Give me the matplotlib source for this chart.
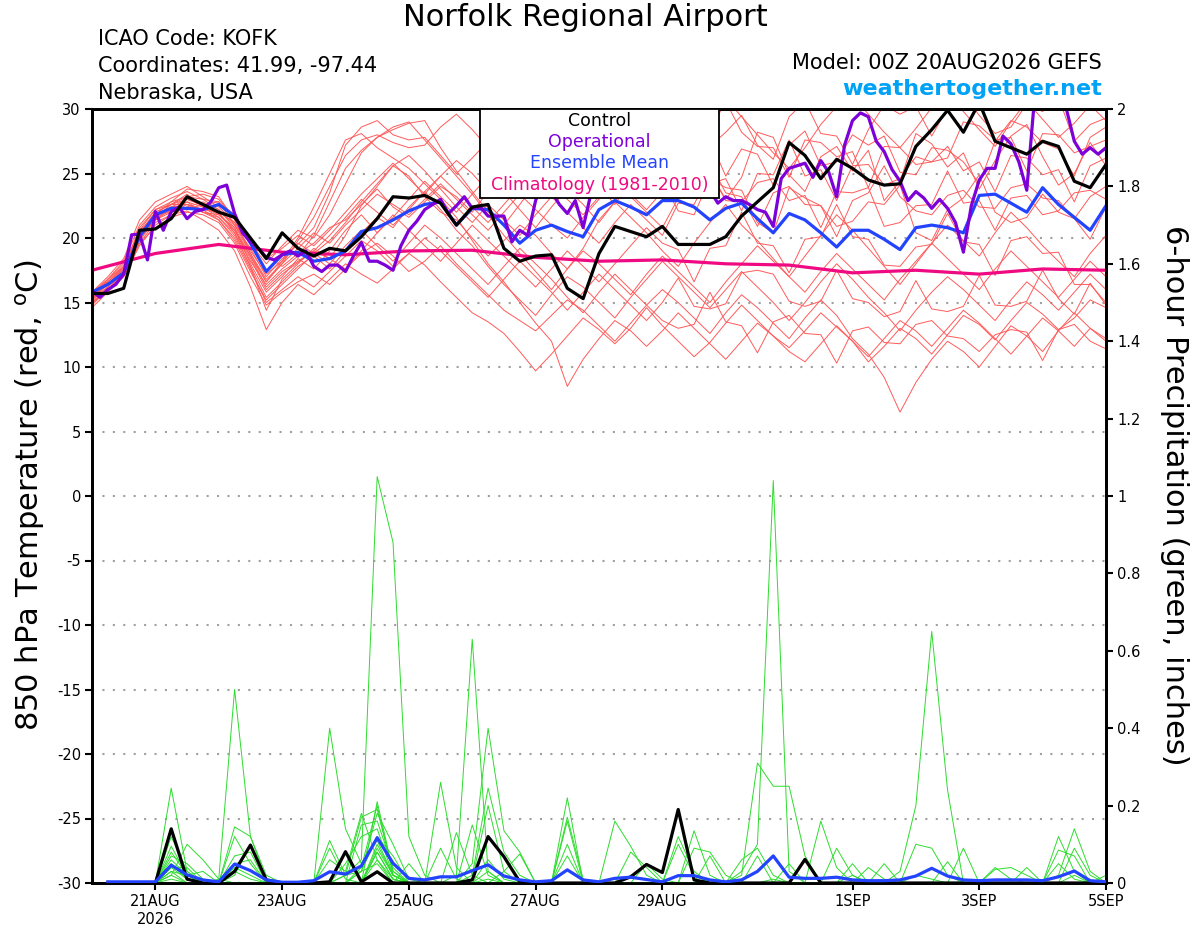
import numpy as np
import matplotlib
matplotlib.use('Agg')
import matplotlib.pyplot as plt
from matplotlib.patches import Rectangle

# 850 hPa temperature, 6-hourly from 00Z 20AUG (65 steps)
control_temp = [15.7, 15.7, 16.1, 20.6, 20.7, 21.5, 23.2, 22.6, 22.0, 21.6, 20.0, 18.4, 20.4,
                19.2, 18.6, 19.2, 19.0, 20.1, 21.5, 23.2, 23.1, 23.3, 22.7, 21.0, 22.4, 22.6,
                19.2, 18.2, 18.6, 18.7, 16.1, 15.3, 18.8, 20.9, 20.5, 20.1, 20.9, 19.5, 19.5,
                19.5, 20.1, 21.7, 22.8, 23.9, 27.4, 26.4, 24.6, 26.1, 25.4, 24.5, 24.1, 24.2,
                27.1, 28.4, 29.9, 28.2, 30.5, 27.5, 27.0, 26.5, 27.5, 27.1, 24.4, 23.9, 25.7]

mean_temp = [15.8, 16.4, 17.3, 20.1, 21.8, 22.3, 22.3, 22.2, 22.6, 21.7, 19.6, 17.4, 18.7,
             18.9, 18.2, 18.4, 19.0, 20.5, 20.8, 21.4, 22.1, 22.6, 22.8, 21.0, 22.3, 22.2,
             21.0, 19.6, 20.6, 21.0, 20.5, 20.1, 22.2, 22.9, 22.4, 21.8, 22.9, 22.9, 22.4,
             21.4, 22.3, 22.7, 21.5, 20.4, 21.9, 21.4, 20.4, 19.3, 20.6, 20.6, 19.9, 19.1,
             20.8, 21.0, 20.8, 20.4, 23.3, 23.4, 22.7, 22.0, 23.9, 22.6, 21.6, 20.6, 22.5]

# operational run is 3-hourly (129 steps)
oper_temp = [15.9, 15.4, 16.0, 16.4, 17.2, 20.25, 20.3, 18.3, 22.05, 20.6, 22.05, 22.4, 21.5, 22.05, 22.2, 22.8,
             23.9, 24.1, 21.9, 20.4, 19.7, 19.2, 18.5, 18.3, 18.7, 19.0, 18.6, 19.0, 17.8, 17.4, 17.9, 17.9,
             17.4, 18.6, 19.65, 18.2, 18.2, 17.9, 17.5, 19.4, 20.6, 21.3, 22.2, 22.6, 23.0, 21.9, 22.5, 23.2,
             22.3, 22.4, 21.7, 21.7, 21.7, 19.7, 20.6, 20.2, 22.9, 24.5, 23.6, 22.6, 21.9, 22.9, 20.8, 23.5,
             24.5, 25.0, 24.2, 25.3, 24.8, 24.0, 24.6, 25.5, 25.0, 24.3, 24.8, 25.2, 24.5, 24.0, 23.7, 22.7,
             23.2, 22.9, 22.9, 22.6, 22.2, 22.0, 20.9, 24.6, 25.4, 25.6, 25.8, 24.7, 26.0, 25.1, 23.2, 27.2,
             29.1, 29.7, 29.4, 27.5, 26.7, 25.3, 24.4, 22.9, 23.6, 23.1, 22.3, 23.0, 22.3, 21.2, 18.9, 22.5,
             24.5, 25.4, 25.4, 27.9, 27.3, 25.9, 23.7, 31.0, 32.0, 31.5, 31.0, 30.0, 27.5, 26.5, 27.0, 26.5,
             27.0]

# climatology, daily
clim_temp = [17.5, 18.8, 19.5, 18.9, 18.7, 19.0, 19.05, 18.5, 18.2, 18.3, 18.0, 17.9,
             17.3, 17.5, 17.2, 17.6, 17.5]

members_temp = [
    [15.2, 16.8, 18.2, 21.0, 22.4, 23.1, 23.6, 23.0, 22.8, 21.0, 19.2, 17.0,
     18.4, 19.5, 20.8, 23.5, 27.2, 28.6, 29.1, 28.0, 27.6, 27.8, 26.4, 25.0,
     26.2, 27.5, 25.8, 24.1, 23.0, 24.6, 26.8, 28.2, 27.4, 29.0, 30.4, 28.8,
     27.2, 26.0, 27.8, 29.6, 30.8, 29.4, 28.0, 26.6, 25.4, 27.0, 28.8, 30.2,
     31.0, 29.6, 28.2, 27.0, 28.5, 30.1, 31.2, 29.8, 28.4, 27.1, 29.0, 30.6,
     29.2, 27.8, 28.9, 30.3, 29.1],
    [14.6, 15.8, 17.0, 19.4, 21.0, 21.8, 22.1, 21.4, 20.6, 19.0, 16.2, 12.9,
     15.0, 16.4, 15.6, 16.8, 18.0, 17.2, 16.5, 17.6, 18.8, 17.9, 16.6, 15.4,
     14.2, 13.5, 12.6, 11.2, 9.7, 11.0, 12.4, 13.8, 12.9, 11.8, 13.0, 14.6,
     13.2, 12.0, 10.8, 11.9, 13.4, 14.8, 13.6, 12.4, 11.5, 12.8, 14.2, 13.1,
     12.0, 10.4, 11.6, 13.0, 12.2, 11.0, 12.5, 14.0, 13.3, 12.1, 13.6, 15.0,
     14.1, 12.9, 13.8, 15.2, 14.6],
    [15.0, 16.2, 17.8, 20.4, 22.0, 22.6, 23.0, 22.5, 21.9, 20.6, 18.4, 16.0,
     17.2, 18.1, 19.0, 18.4, 20.2, 22.5, 24.0, 25.6, 24.8, 23.2, 22.0, 21.4,
     20.0, 18.6, 19.8, 21.0, 20.2, 18.8, 17.6, 19.2, 21.4, 22.8, 21.6, 20.4,
     19.0, 17.8, 19.6, 21.2, 22.6, 21.0, 19.8, 18.4, 17.0, 18.6, 20.2, 21.8,
     20.6, 19.2, 17.8, 16.4, 18.0, 19.6, 21.0, 19.8, 18.6, 20.4, 22.0, 20.8,
     19.4, 18.2, 17.0, 18.8, 20.2],
    [15.8, 17.0, 18.4, 21.4, 22.8, 23.4, 24.0, 23.2, 22.4, 21.2, 19.6, 18.0,
     19.4, 20.6, 20.0, 21.8, 24.2, 26.6, 27.8, 28.4, 28.9, 29.1, 27.0, 25.2,
     23.6, 22.0, 21.0, 22.6, 24.2, 25.8, 26.9, 25.4, 24.0, 22.6, 24.4, 26.2,
     27.6, 26.9, 24.3, 25.1, 23.0, 24.7, 28.2, 27.8, 24.9, 23.6, 26.3, 27.1,
     25.2, 26.8, 22.9, 24.4, 28.1, 27.3, 25.5, 26.6, 23.8, 26.0, 27.9, 28.8,
     26.3, 24.1, 25.0, 27.4, 25.6],
    [15.4, 16.4, 17.4, 19.8, 21.6, 22.2, 22.8, 22.0, 21.6, 20.2, 17.8, 15.4,
     16.6, 17.8, 18.6, 17.6, 19.0, 20.4, 21.6, 20.8, 22.4, 23.6, 22.2, 20.6,
     19.4, 17.8, 16.4, 15.2, 14.0, 15.6, 17.0, 16.2, 15.0, 13.8, 15.4, 16.8,
     18.2, 17.0, 15.8, 14.6, 16.0, 17.4, 16.2, 15.0, 13.6, 15.0, 16.6, 18.0,
     16.8, 15.4, 14.2, 12.8, 14.4, 15.8, 17.0, 16.0, 14.8, 13.6, 15.2, 16.6,
     15.6, 14.4, 15.8, 17.2, 16.0],
    [15.6, 16.6, 17.6, 20.2, 21.4, 22.4, 22.2, 22.6, 22.8, 21.8, 19.8, 18.6,
     17.8, 18.8, 19.6, 20.8, 21.4, 22.6, 23.8, 22.4, 21.6, 22.8, 24.0, 23.2,
     22.0, 23.6, 25.0, 24.2, 23.0, 24.8, 26.4, 27.6, 26.2, 25.0, 26.8, 28.4,
     27.0, 26.3, 23.8, 27.1, 28.2, 29.5, 27.2, 26.1, 29.4, 30.6, 28.1, 27.9,
     25.7, 28.4, 30.3, 29.6, 30.2, 27.9, 30.1, 31.2, 29.5, 28.1, 28.6, 30.4,
     29.8, 30.9, 27.5, 28.8, 29.3],
    [14.8, 16.0, 17.2, 19.6, 20.8, 21.6, 22.0, 21.8, 21.2, 19.6, 17.0, 14.8,
     15.8, 16.6, 17.2, 16.4, 17.6, 18.8, 19.6, 18.6, 17.4, 18.2, 19.4, 18.0,
     16.8, 15.6, 14.4, 13.6, 12.8, 14.0, 15.2, 14.4, 13.2, 12.0, 13.4, 14.8,
     16.0, 15.0, 13.8, 12.6, 14.2, 15.6, 14.6, 13.4, 12.2, 13.8, 15.2, 14.0,
     12.2, 11.0, 9.2, 6.5, 8.8, 10.6, 12.0, 11.2, 10.0, 11.6, 13.2, 12.4,
     11.2, 12.8, 14.2, 13.0, 12.0],
    [15.2, 16.2, 17.6, 20.0, 21.8, 22.0, 22.4, 22.8, 22.2, 21.0, 18.8, 16.8,
     18.0, 19.2, 20.4, 19.6, 21.0, 22.2, 23.4, 22.6, 21.8, 23.0, 24.2, 23.0,
     21.8, 20.6, 22.0, 23.4, 22.2, 21.0, 20.0, 21.6, 23.0, 24.4, 23.2, 22.0,
     20.8, 23.1, 23.6, 25.8, 23.5, 23.2, 20.9, 23.5, 24.0, 22.6, 22.5, 20.1,
     22.9, 23.5, 25.6, 23.2, 22.1, 21.8, 23.3, 23.7, 22.4, 22.3, 23.9, 24.2,
     23.1, 22.9, 21.5, 23.2, 24.0],
    [15.6, 16.8, 18.0, 20.6, 22.2, 22.8, 23.2, 23.0, 22.2, 20.8, 18.6, 16.6,
     18.2, 20.0, 22.4, 25.0, 27.6, 28.1, 27.0, 26.2, 25.4, 24.2, 23.0, 21.6,
     19.8, 18.0, 16.6, 15.0, 13.4, 12.0, 8.5, 10.6, 12.2, 13.6, 12.8, 11.6,
     12.8, 14.2, 13.0, 11.8, 10.6, 12.0, 13.4, 12.4, 11.2, 10.4, 11.8, 13.2,
     12.0, 10.8, 12.2, 13.6, 12.8, 11.6, 13.0, 14.4, 13.4, 12.2, 11.0, 12.4,
     13.8, 12.8, 11.6, 13.0, 12.2],
    [15.0, 16.0, 17.4, 20.8, 22.2, 22.6, 23.4, 22.4, 21.8, 20.8, 18.0, 15.8,
     17.0, 18.4, 17.6, 19.0, 20.6, 21.8, 20.4, 21.6, 23.0, 24.4, 23.2, 22.0,
     23.4, 24.8, 23.6, 22.2, 20.8, 22.4, 23.8, 22.6, 21.2, 22.8, 24.4, 25.8,
     24.4, 22.1, 21.8, 24.6, 23.9, 23.7, 21.2, 20.4, 23.9, 23.1, 22.5, 20.9,
     21.3, 22.8, 22.6, 24.1, 20.4, 19.8, 22.2, 23.1, 24.9, 22.0, 21.2, 21.6,
     23.4, 22.0, 21.5, 19.9, 22.4],
    [15.4, 16.6, 17.8, 20.2, 21.8, 22.4, 23.0, 22.6, 22.0, 20.4, 18.2, 16.4,
     17.6, 18.6, 20.2, 22.8, 25.4, 26.8, 27.8, 28.6, 29.0, 27.6, 26.2, 24.8,
     23.4, 21.8, 20.2, 18.8, 17.4, 16.0, 17.6, 19.0, 18.0, 16.8, 15.6, 17.2,
     18.6, 17.4, 16.2, 15.0, 16.6, 18.0, 19.4, 18.2, 17.0, 15.8, 17.4, 18.8,
     17.6, 16.4, 15.2, 16.8, 18.2, 19.6, 18.4, 17.2, 16.0, 17.6, 19.0, 17.8,
     16.6, 15.4, 16.8, 18.2, 17.0],
    [15.8, 16.8, 17.8, 20.6, 21.6, 22.6, 23.2, 23.4, 23.0, 21.6, 20.0, 18.4,
     19.2, 20.2, 19.4, 20.6, 22.0, 23.4, 24.6, 25.8, 24.6, 23.4, 24.8, 26.0,
     25.0, 23.6, 24.8, 26.2, 27.4, 26.0, 24.8, 26.4, 27.8, 26.6, 25.4, 27.0,
     28.4, 29.3, 27.1, 27.6, 24.8, 26.9, 26.5, 24.1, 27.2, 28.3, 25.6, 25.9,
     28.0, 27.2, 27.9, 25.1, 24.9, 27.0, 26.8, 25.9, 24.2, 27.5, 29.1, 28.6,
     27.4, 26.9, 24.8, 27.8, 28.6],
    [15.2, 16.4, 17.4, 20.0, 21.4, 22.0, 22.6, 22.2, 21.4, 19.8, 17.4, 15.2,
     16.4, 17.6, 18.8, 18.0, 19.4, 20.6, 19.4, 18.2, 19.6, 21.0, 20.0, 18.8,
     17.6, 16.4, 17.8, 19.2, 18.0, 16.8, 15.4, 14.2, 15.8, 17.2, 16.0, 14.8,
     13.6, 13.0, 13.3, 15.8, 13.5, 13.2, 11.1, 13.5, 14.0, 12.6, 12.5, 10.3,
     12.8, 13.1, 11.9, 11.8, 13.3, 13.6, 12.4, 12.2, 11.2, 12.5, 12.9, 12.7,
     10.5, 12.9, 13.3, 12.0, 11.4],
    [15.6, 16.6, 17.8, 20.4, 22.0, 22.6, 22.6, 22.0, 21.8, 20.6, 18.6, 16.2,
     17.4, 18.2, 19.0, 20.2, 21.6, 23.0, 22.0, 21.0, 22.2, 23.6, 24.8, 23.6,
     22.4, 21.2, 22.6, 24.0, 25.4, 24.2, 23.0, 21.8, 23.2, 24.6, 23.4, 22.2,
     23.6, 25.8, 25.4, 24.2, 24.6, 22.1, 25.0, 24.9, 27.6, 24.8, 25.3, 22.9,
     25.6, 25.7, 24.1, 24.6, 26.3, 25.9, 27.1, 25.2, 25.9, 23.6, 26.4, 26.2,
     24.9, 25.3, 22.8, 25.6, 26.2],
    [15.0, 16.0, 17.2, 20.4, 21.8, 22.8, 23.8, 23.6, 23.2, 21.4, 18.8, 16.6,
     18.0, 19.8, 21.6, 24.0, 26.4, 27.6, 28.0, 27.4, 27.0, 27.2, 28.6, 29.6,
     28.4, 27.0, 28.4, 29.8, 28.6, 27.2, 28.6, 30.0, 29.0, 27.8, 26.6, 28.2,
     29.6, 27.7, 28.1, 28.3, 30.6, 28.2, 27.1, 27.0, 24.7, 27.6, 27.4, 26.3,
     26.7, 23.9, 27.1, 27.0, 25.7, 25.9, 26.2, 29.0, 28.7, 27.6, 27.8, 25.2,
     28.1, 28.0, 26.6, 27.1, 27.6],
    [14.9, 16.0, 17.0, 19.6, 21.2, 21.8, 22.4, 22.0, 21.4, 20.0, 17.6, 15.0,
     16.0, 17.0, 16.2, 17.4, 18.6, 19.8, 19.0, 17.8, 18.8, 20.0, 19.0, 17.8,
     16.6, 15.4, 16.8, 18.2, 17.0, 15.8, 14.4, 15.8, 17.2, 16.0, 14.8, 13.6,
     15.0, 16.9, 14.7, 14.5, 14.9, 17.3, 17.5, 17.2, 15.1, 14.7, 15.1, 17.5,
     15.3, 15.0, 13.9, 14.3, 16.7, 14.5, 14.3, 14.7, 17.1, 14.8, 14.7, 15.1,
     17.5, 15.3, 14.1, 16.5, 14.8],
    [15.4, 16.4, 17.6, 20.2, 21.8, 22.4, 22.6, 22.2, 22.0, 21.2, 19.0, 17.2,
     18.2, 19.6, 18.8, 19.8, 21.2, 22.8, 24.2, 25.6, 26.4, 25.2, 23.8, 22.4,
     21.2, 22.6, 21.4, 20.2, 21.8, 23.2, 22.0, 20.8, 19.6, 21.2, 22.6, 21.4,
     20.2, 22.7, 22.6, 25.1, 22.9, 22.8, 24.3, 24.6, 22.9, 23.3, 20.8, 23.6,
     23.5, 23.9, 20.9, 21.2, 22.5, 22.6, 25.2, 22.7, 22.9, 20.6, 23.1, 23.3,
     21.8, 22.1, 23.5, 23.7, 23.0],
    [15.2, 16.2, 17.2, 19.8, 21.4, 22.2, 22.8, 22.4, 21.6, 20.4, 17.8, 14.4,
     16.8, 18.0, 19.2, 18.4, 17.6, 19.0, 20.4, 21.8, 20.6, 19.4, 18.2, 19.6,
     21.0, 19.8, 18.6, 17.4, 16.2, 17.6, 19.0, 17.8, 16.6, 18.0, 19.4, 20.8,
     19.6, 19.1, 16.6, 19.2, 19.4, 22.0, 19.6, 19.4, 17.3, 19.9, 20.1, 22.6,
     20.1, 19.9, 17.9, 17.8, 19.3, 19.5, 21.9, 19.7, 19.5, 17.1, 19.8, 20.1,
     18.8, 18.9, 16.4, 16.4, 15.0],
]

# 6-hour precipitation (inches), first value is 06Z 20AUG (64 steps)
control_precip = [0, 0, 0, 0, .14, .01, 0, 0, .03, .098, .008, 0, 0, 0, .003, .081,
                  .003, .029, 0, 0, 0, 0, 0, .008, .12, .068, .003, 0, 0, 0, 0, 0,
                  0, .016, .048, .027, .19, .008, 0, 0, 0, 0, 0, 0, .061, 0, 0, 0,
                  0, 0, 0, 0, 0, 0, 0, 0, 0, 0, 0, 0, 0, 0, 0, 0]

mean_precip = [.003, .003, .003, .003, .046, .021, .008, .003, .049, .032, .008, .002, .002, .006, .029, .023,
               .044, .117, .051, .012, .008, .016, .016, .032, .047, .018, .008, .003, .006, .034, .008, .003,
               .012, .015, .009, .003, .019, .019, .008, .003, .008, .03, .07, .015, .012, .012, .015, .008,
               .006, .006, .008, .018, .038, .018, .008, .006, .008, .008, .008, .006, .016, .031, .006, .003]

members_precip = [
    [0, 0, 0, 0, .05, .01, 0, 0, .03, .01, 0, 0, 0, 0, 0, .02,
     .06, 1.05, .88, .12, .02, 0, 0, 0, .01, 0, 0, 0, 0, .07, 0, 0,
     0, 0, 0, 0, 0, 0, 0, 0, 0, 0, .01, 0, 0, 0, 0, 0,
     0, 0, 0, 0, 0, 0, 0, 0, 0, 0, 0, 0, 0, .02, 0, 0],
    [0, 0, 0, 0, .02, 0, 0, 0, 0, 0, 0, 0, 0, 0, 0, 0,
     0, .06, .01, 0, 0, 0, 0, 0, .03, 0, 0, 0, 0, 0, 0, 0,
     0, 0, 0, 0, 0, 0, 0, 0, .03, .10, 1.04, .03, 0, 0, 0, 0,
     0, 0, 0, .02, .01, 0, 0, 0, 0, 0, 0, 0, 0, 0, 0, 0],
    [0, 0, 0, 0, .04, .01, 0, 0, 0, 0, 0, 0, 0, 0, 0, 0,
     .03, .05, 0, 0, 0, 0, 0, 0, .06, .01, 0, 0, 0, 0, 0, 0,
     0, 0, 0, 0, 0, 0, 0, 0, 0, 0, 0, 0, 0, 0, 0, .02,
     0, 0, .03, .20, .65, .24, 0, 0, 0, 0, 0, 0, 0, 0, 0, 0],
    [0, 0, 0, 0, 0, 0, 0, .01, .50, .12, .01, 0, 0, 0, 0, 0,
     0, .09, .02, 0, 0, .26, .04, 0, 0, 0, 0, 0, 0, 0, 0, 0,
     0, 0, 0, 0, 0, 0, 0, 0, 0, 0, 0, 0, 0, 0, 0, 0,
     0, 0, 0, 0, 0, 0, 0, 0, 0, 0, 0, 0, .05, .01, 0, 0],
    [0, 0, 0, 0, .03, .02, 0, 0, 0, 0, 0, 0, 0, 0, .40, .14,
     .05, .11, .02, 0, 0, 0, 0, .15, .02, 0, 0, 0, 0, 0, 0, 0,
     0, 0, 0, 0, 0, 0, 0, 0, 0, 0, 0, 0, 0, 0, 0, 0,
     0, 0, 0, 0, 0, 0, 0, 0, 0, 0, 0, 0, 0, .09, .02, 0],
    [0, 0, 0, 0, .12, .03, 0, 0, 0, 0, 0, 0, 0, 0, 0, 0,
     0, .08, .01, 0, 0, 0, .02, .63, .03, 0, 0, 0, 0, 0, 0, 0,
     0, 0, 0, 0, 0, 0, 0, 0, 0, 0, 0, 0, 0, .16, .04, 0,
     0, 0, 0, 0, 0, 0, 0, 0, .04, .01, 0, 0, 0, 0, 0, 0],
    [0, 0, 0, 0, .01, 0, 0, 0, .04, .02, 0, 0, 0, 0, 0, 0,
     0, .21, .03, 0, 0, 0, 0, .05, .40, .135, .08, 0, 0, 0, 0, 0,
     0, 0, 0, 0, 0, 0, 0, 0, 0, 0, 0, 0, 0, 0, 0, 0,
     0, 0, 0, 0, 0, 0, 0, 0, 0, 0, 0, 0, .02, .14, .03, 0],
    [0, 0, 0, 0, .245, .03, 0, 0, 0, 0, 0, 0, 0, 0, 0, 0,
     .04, .20, .02, 0, 0, 0, 0, 0, 0, 0, 0, 0, 0, 0, 0, 0,
     0, 0, 0, 0, 0, 0, 0, 0, .02, .31, .25, .25, .07, 0, 0, 0,
     0, 0, 0, 0, 0, 0, 0, 0, 0, 0, 0, 0, .12, .03, 0, 0],
    [0, 0, 0, 0, .02, .10, .06, .01, 0, 0, 0, 0, 0, 0, 0, .02,
     .17, .19, .03, 0, 0, 0, 0, 0, 0, 0, 0, 0, 0, .22, 0, 0,
     0, 0, 0, 0, 0, .135, .02, 0, 0, 0, 0, 0, 0, 0, 0, 0,
     0, 0, 0, 0, 0, 0, 0, 0, 0, 0, 0, 0, 0, 0, 0, 0],
    [0, 0, 0, 0, .03, 0, 0, 0, .145, .12, .02, 0, 0, 0, 0, 0,
     .15, .16, .04, 0, 0, 0, 0, 0, 0, 0, 0, 0, 0, 0, 0, 0,
     .16, .095, .02, 0, 0, 0, 0, 0, 0, 0, 0, 0, 0, 0, 0, 0,
     0, 0, 0, .10, .09, .02, 0, 0, 0, 0, 0, 0, 0, 0, 0, 0],
    [0, 0, 0, 0, .095, .02, 0, 0, .12, .05, 0, 0, 0, 0, 0, 0,
     .03, .18, .10, .01, 0, 0, 0, .02, .245, .08, .02, 0, 0, 0, 0, 0,
     0, 0, 0, 0, .12, .03, 0, 0, 0, 0, 0, 0, 0, 0, .09, .02,
     0, 0, 0, 0, 0, 0, 0, 0, 0, 0, 0, 0, 0, 0, 0, 0],
    [0, 0, 0, 0, .08, .02, 0, 0, .02, .10, .01, 0, 0, 0, 0, .05,
     .12, .14, .02, 0, 0, 0, 0, 0, 0, 0, 0, 0, 0, .17, .01, 0,
     0, 0, 0, 0, 0, .09, .08, .02, 0, 0, 0, 0, 0, 0, 0, 0,
     .04, .01, 0, 0, 0, 0, 0, 0, 0, 0, 0, 0, 0, 0, 0, 0],
    [0, 0, 0, 0, .07, .05, .01, 0, 0, 0, 0, 0, 0, 0, .11, .02,
     .03, .12, .07, 0, 0, .09, .01, 0, 0, 0, 0, 0, 0, .16, 0, 0,
     0, 0, 0, 0, .10, .02, 0, 0, 0, 0, 0, 0, 0, 0, 0, 0,
     0, 0, 0, 0, 0, 0, 0, 0, .035, .04, .02, 0, 0, 0, 0, 0],
    [0, 0, 0, 0, .06, .02, .03, 0, 0, 0, 0, 0, 0, 0, .09, .01,
     0, .10, .02, 0, 0, 0, 0, .01, .20, .03, .075, 0, 0, 0, 0, 0,
     0, 0, .05, .01, 0, 0, 0, 0, 0, 0, 0, 0, 0, 0, 0, 0,
     0, .05, 0, 0, 0, .055, 0, 0, 0, 0, 0, 0, .085, .07, 0, 0],
    [0, 0, 0, 0, .05, .01, 0, 0, .07, .08, 0, 0, 0, 0, 0, 0,
     0, .08, .01, 0, 0, 0, .13, .02, 0, 0, 0, 0, 0, .10, 0, 0,
     0, 0, 0, 0, 0, 0, 0, 0, .06, .09, .02, 0, 0, 0, 0, .05,
     0, 0, 0, 0, 0, 0, 0, 0, 0, 0, .04, 0, 0, 0, 0, 0],
    [0, 0, 0, 0, .04, .04, 0, 0, .05, .06, 0, 0, 0, 0, .06, .03,
     .18, .06, 0, .05, 0, 0, 0, 0, 0, .03, 0, 0, 0, 0, 0, 0,
     0, .08, .04, 0, 0, 0, .07, 0, 0, .07, 0, .05, 0, 0, 0, 0,
     0, 0, 0, 0, 0, 0, .09, 0, 0, 0, 0, 0, 0, 0, 0, .02],
]

tick_days = [1, 3, 5, 7, 9, 12, 14, 16]
tick_labels = ['21AUG\n2026', '23AUG', '25AUG', '27AUG', '29AUG', '1SEP', '3SEP', '5SEP']

RED = '#ff5a5a'
GREEN = '#2ddc2d'
BLACK = 'black'
PURPLE = '#7d00d8'
BLUE = '#2343ff'
MAGENTA = '#ef0a82'


def make_plot():
    plt.rcParams['font.family'] = ['DejaVu Sans']
    plt.rcParams['axes.unicode_minus'] = False
    fig = plt.figure(figsize=(12, 9.27), dpi=100)
    ax = fig.add_axes([92 / 1200, 44 / 927, 1014 / 1200, 774 / 927])
    ax2 = ax.twinx()

    t6 = np.arange(len(control_temp)) * 0.25
    t3 = np.arange(len(oper_temp)) * 0.125
    tclim = np.arange(len(clim_temp))
    tp = (np.arange(len(control_precip)) + 1) * 0.25

    # temperature
    for m in members_temp:
        ax.plot(t6, m, color=RED, lw=0.7, zorder=2)
    ax.plot(tclim, clim_temp, color=MAGENTA, lw=2.3, zorder=3)
    ax.plot(t6, mean_temp, color=BLUE, lw=2.3, zorder=4)
    ax.plot(t3, oper_temp, color=PURPLE, lw=2.3, zorder=5)
    ax.plot(t6, control_temp, color=BLACK, lw=2.3, zorder=6)

    # precipitation
    for m in members_precip:
        ax2.plot(tp, m, color=GREEN, lw=0.7, zorder=2)
    ax2.plot(tp, control_precip, color=BLACK, lw=2.3, zorder=4)
    ax2.plot(tp, mean_precip, color=BLUE, lw=2.3, zorder=5)

    ax.set_xlim(0, 16)
    ax.set_ylim(-30, 30)
    ax2.set_ylim(0, 2)
    ax.set_yticks(np.arange(-30, 31, 5))
    ax2.set_yticks(np.arange(0, 2.01, 0.2))
    ax2.set_yticklabels(['0', '0.2', '0.4', '0.6', '0.8', '1', '1.2', '1.4', '1.6', '1.8', '2'])
    ax.set_xticks(tick_days)
    ax.set_xticklabels(tick_labels)

    ax.yaxis.grid(True, linestyle=(0, (1, 4)), color='#a0a0a0', lw=1.5)
    ax.set_axisbelow(True)

    for a in (ax, ax2):
        for s in a.spines.values():
            s.set_linewidth(2.0)
        a.tick_params(direction='out', length=5, width=1.5, labelsize=10.5, pad=3)

    fig.text(30 / 1200, 1 - 495 / 927, r'850 hPa Temperature (red, $^{\mathrm{o}}$C)',
             rotation=90, ha='center', va='center', fontsize=22)
    fig.text(1175 / 1200, 1 - 495 / 927, '6-hour Precipitation (green, inches)',
             rotation=270, ha='center', va='center', fontsize=22)

    # legend box
    x0, x1 = (480 - 92) / 1014, (719 - 92) / 1014
    y0 = (883 - 198) / 774
    ax2.add_patch(Rectangle((x0, y0), x1 - x0, 1 - y0, transform=ax2.transAxes,
                            facecolor='white', edgecolor='black', lw=1.3, zorder=10, clip_on=False))
    xc = (x0 + x1) / 2
    for txt, col, ypx in [('Control', BLACK, 121), ('Operational', PURPLE, 142),
                          ('Ensemble Mean', BLUE, 163), ('Climatology (1981-2010)', MAGENTA, 185)]:
        ax2.text(xc, (883 - ypx) / 774, txt, color=col, fontsize=12.5, ha='center', va='center',
                 transform=ax2.transAxes, zorder=11)

    # header
    fig.text(585 / 1200, 1 - 18 / 927, 'Norfolk Regional Airport', ha='center', va='center', fontsize=22)
    fig.text(98 / 1200, 1 - 39 / 927, 'ICAO Code: KOFK', ha='left', va='center', fontsize=15)
    fig.text(98 / 1200, 1 - 66 / 927, 'Coordinates: 41.99, -97.44', ha='left', va='center', fontsize=15)
    fig.text(98 / 1200, 1 - 93 / 927, 'Nebraska, USA', ha='left', va='center', fontsize=15)
    fig.text(1102 / 1200, 1 - 63 / 927, 'Model: 00Z 20AUG2026 GEFS', ha='right', va='center', fontsize=15)
    fig.text(1102 / 1200, 1 - 89 / 927, 'weathertogether.net', ha='right', va='center', fontsize=16,
             fontweight='bold', color='#00a2f5')

    fig.savefig('out.png', dpi=100)


if __name__ == '__main__':
    make_plot()
